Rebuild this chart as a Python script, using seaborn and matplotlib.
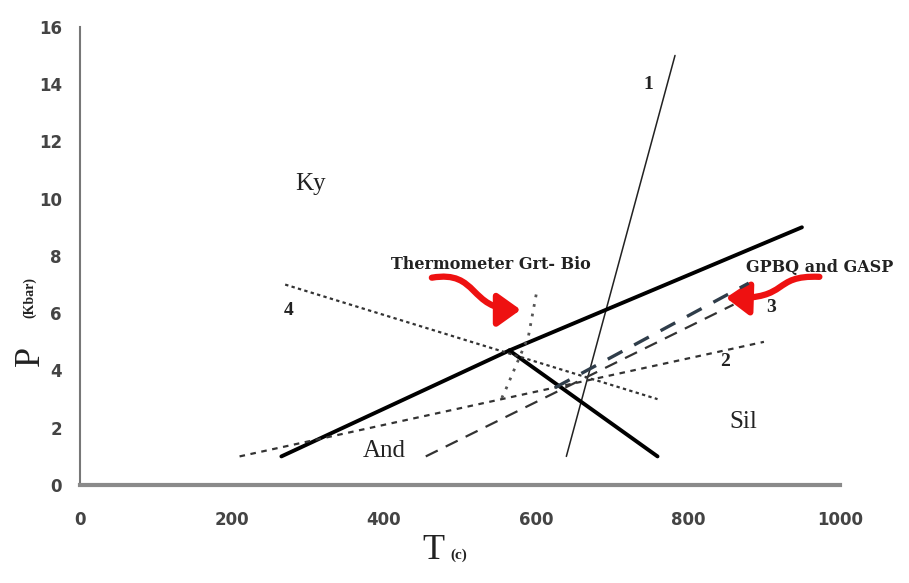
# P-T diagram: Al2SiO5 triple point with thermobarometer curves
import numpy as np
import pandas as pd
import matplotlib
matplotlib.use("Agg")
import matplotlib.pyplot as plt
import seaborn as sns
from matplotlib.patches import FancyArrowPatch
from matplotlib.path import Path

# Reaction lines (T in C, P in kbar)
line1_t = [640, 783]
line1_p = [1.0, 15.0]
ky_and_t = [265, 565]
ky_and_p = [1.0, 4.7]
ky_sil_t = [565, 950]
ky_sil_p = [4.7, 9.0]
and_sil_t = [565, 760]
and_sil_p = [4.7, 1.0]
line2_t = [210, 900]
line2_p = [1.0, 5.0]
line3a_t = [455, 860]
line3a_p = [1.0, 6.3]
line3b_t = [625, 880]
line3b_p = [3.4, 7.05]
line4_t = [270, 760]
line4_p = [7.0, 3.0]
grt_bio_t = [555, 560, 573, 590, 601]
grt_bio_p = [3.04, 3.32, 4.13, 5.18, 6.75]

# Field and line labels
labels = ["Ky", "And", "Sil", "1", "2", "3", "4"]
label_t = [303, 400, 873, 748, 849, 909, 275]
label_p = [10.5, 1.2, 2.2, 14.0, 4.3, 6.2, 6.1]

# Red wavy arrows (bezier control points in data units)
arrow_grt_t = [463, 525, 511, 580]
arrow_grt_p = [7.24, 7.52, 6.12, 6.12]
arrow_gpbq_t = [973, 909, 936, 850]
arrow_gpbq_p = [7.27, 7.34, 6.47, 6.54]

sns.set_style("white")

fig = plt.figure(figsize=(9.09, 5.83), dpi=100)
ax = fig.add_axes([0.088, 0.168, 0.836, 0.786])


def draw(t, p, **kw):
    df = pd.DataFrame({"T": t, "P": p})
    sns.lineplot(data=df, x="T", y="P", ax=ax, sort=False, estimator=None, **kw)


draw(line1_t, line1_p, color="#222222", linewidth=1.1)
draw(ky_and_t, ky_and_p, color="black", linewidth=2.8)
draw(ky_sil_t, ky_sil_p, color="black", linewidth=2.8)
draw(and_sil_t, and_sil_p, color="black", linewidth=2.8)
draw(line2_t, line2_p, color="#333333", linewidth=1.6, dashes=(2.5, 2.5))
draw(line3a_t, line3a_p, color="#333333", linewidth=1.6, dashes=(6, 4))
draw(line3b_t, line3b_p, color="#2f3d4a", linewidth=2.4, dashes=(5, 4))
draw(line4_t, line4_p, color="#333333", linewidth=1.6, dashes=(1.5, 1.5))
draw(grt_bio_t, grt_bio_p, color="#555555", linewidth=2.0, dashes=(1, 2.5))

for lab, t, p in zip(labels, label_t, label_p):
    big = lab in ("Ky", "And", "Sil")
    ax.text(t, p, lab, fontsize=18 if big else 14, family="Liberation Serif",
            fontweight="normal" if big else "bold", color="#222222",
            ha="center", va="center")

ax.text(541, 7.7, "Thermometer Grt- Bio", fontsize=11.5, family="DejaVu Serif",
        fontweight="bold", color="#222222", ha="center", va="center")
ax.text(973, 7.6, "GPBQ and GASP", fontsize=11.5, family="DejaVu Serif",
        fontweight="bold", color="#222222", ha="center", va="center", clip_on=False)

codes = [Path.MOVETO, Path.CURVE4, Path.CURVE4, Path.CURVE4]
for at, ap in [(arrow_grt_t, arrow_grt_p), (arrow_gpbq_t, arrow_gpbq_p)]:
    arrow = FancyArrowPatch(path=Path(np.column_stack([at, ap]), codes),
                            arrowstyle="-|>,head_length=0.7,head_width=0.5",
                            mutation_scale=20, color="#ee1111", linewidth=4.5,
                            transform=ax.transData, clip_on=False)
    ax.add_patch(arrow)

ax.set_xlim(0, 1000)
ax.set_ylim(0, 16)
ax.set_xticks(range(0, 1001, 200))
ax.set_yticks(range(0, 17, 2))
ax.set_xlabel("")
ax.set_ylabel("")

sns.despine(ax=ax)
ax.spines["left"].set_color("#777777")
ax.spines["left"].set_linewidth(1.5)
ax.spines["bottom"].set_color("#8a8a8a")
ax.spines["bottom"].set_linewidth(3)
ax.tick_params(axis="both", direction="out", length=5, width=1.3, color="#777777",
               labelsize=12, labelcolor="#444444", pad=8)
ax.tick_params(axis="x", pad=14)
for tl in ax.get_xticklabels() + ax.get_yticklabels():
    tl.set_fontweight("bold")

# Axis titles drawn as separate pieces to mimic the big letter + small subscript
fig.text(0.033, 0.39, "P", rotation=90, fontsize=26, family="Liberation Serif",
         ha="center", va="center", color="#222222")
fig.text(0.033, 0.49, "(Kbar)", rotation=90, fontsize=10, family="Liberation Serif",
         fontweight="bold", ha="center", va="center", color="#222222")
fig.text(0.477, 0.055, "T", fontsize=26, family="Liberation Serif",
         ha="center", va="center", color="#222222")
fig.text(0.505, 0.048, "(c)", fontsize=11, family="Liberation Serif",
         fontweight="bold", ha="center", va="center", color="#222222")

fig.savefig("out.png", dpi=100)
